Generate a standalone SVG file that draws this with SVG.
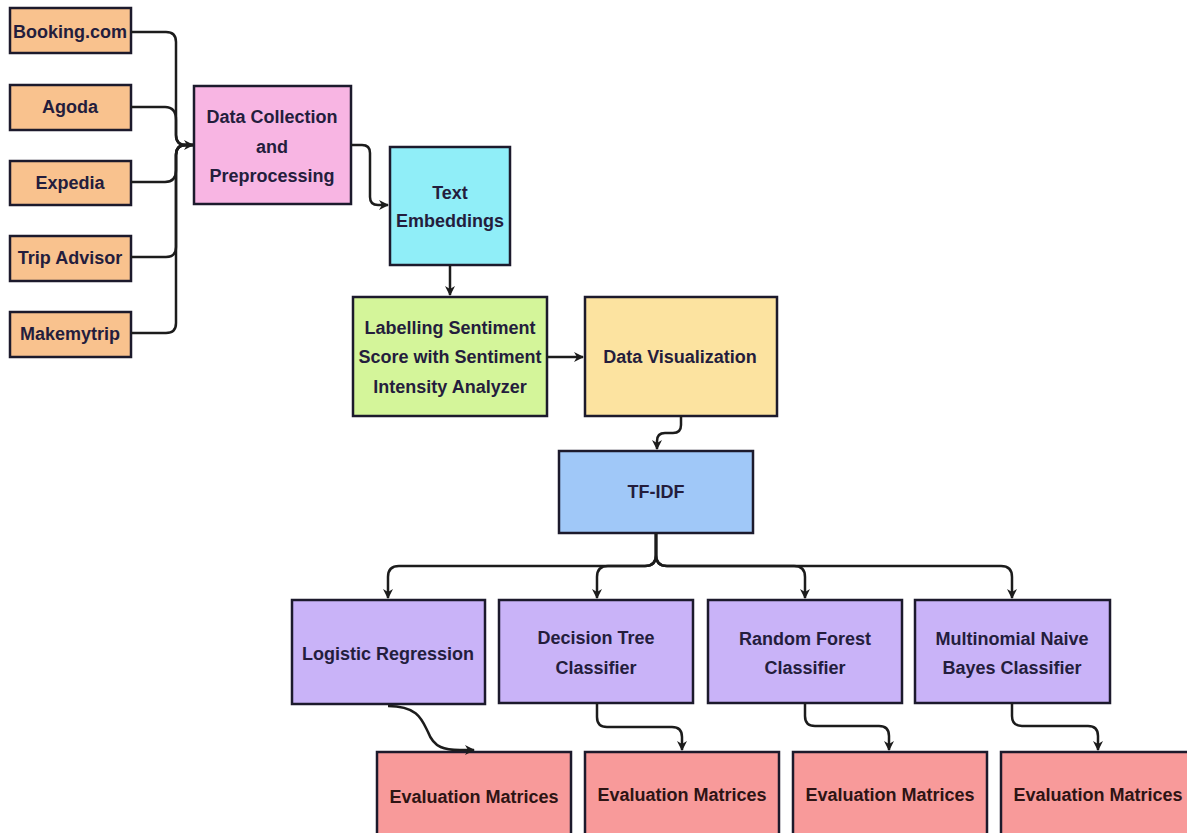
<svg xmlns="http://www.w3.org/2000/svg" width="1187" height="833" viewBox="0 0 1187 833">
<style>
.box{stroke:#1c1a2c;stroke-width:2.5}
.t{font-family:"Liberation Sans",Arial,sans-serif;font-weight:bold;font-size:18px;fill:#241d3d;text-anchor:middle}
.ev{fill:#2e1414}
.c{fill:none;stroke:#1c1c1c;stroke-width:2.5}
</style>
<defs>
<marker id="ah" viewBox="0 0 10 10" refX="9" refY="5" markerWidth="4" markerHeight="4" orient="auto" markerUnits="strokeWidth">
<path d="M0,0 L10,5 L0,10 L3,5 Z" fill="#1c1c1c"/>
</marker>
</defs>
<rect width="1187" height="833" fill="#ffffff"/>
<g id="booking"><rect class="box" x="10" y="8" width="121" height="45" fill="#F9C28E"/><text class="t" x="70" y="38">Booking.com</text></g>
<g id="agoda"><rect class="box" x="10" y="85" width="121" height="45" fill="#F9C28E"/><text class="t" x="70" y="113">Agoda</text></g>
<g id="expedia"><rect class="box" x="10" y="161" width="121" height="44" fill="#F9C28E"/><text class="t" x="70" y="189">Expedia</text></g>
<g id="tripadvisor"><rect class="box" x="10" y="236" width="121" height="45" fill="#F9C28E"/><text class="t" x="70" y="264">Trip Advisor</text></g>
<g id="makemytrip"><rect class="box" x="10" y="312" width="121" height="45" fill="#F9C28E"/><text class="t" x="70" y="340">Makemytrip</text></g>
<g id="datacollection"><rect class="box" x="194" y="86" width="157" height="118" fill="#F8B5E3"/><text class="t" x="272" y="123">Data Collection</text><text class="t" x="272" y="153">and</text><text class="t" x="272" y="182">Preprocessing</text></g>
<g id="textembeddings"><rect class="box" x="390" y="147" width="120" height="118" fill="#90EEF8"/><text class="t" x="450" y="199">Text</text><text class="t" x="450" y="227">Embeddings</text></g>
<g id="labelling"><rect class="box" x="353" y="297" width="194" height="119" fill="#D4F59A"/><text class="t" x="450" y="334">Labelling Sentiment</text><text class="t" x="450" y="363">Score with Sentiment</text><text class="t" x="450" y="393">Intensity Analyzer</text></g>
<g id="datavis"><rect class="box" x="585" y="297" width="192" height="119" fill="#FCE3A0"/><text class="t" x="680" y="363">Data Visualization</text></g>
<g id="tfidf"><rect class="box" x="559" y="451" width="194" height="82" fill="#A0C8F8"/><text class="t" x="656" y="498">TF-IDF</text></g>
<g id="logistic"><rect class="box" x="292" y="600" width="193" height="104" fill="#C9B3F8"/><text class="t" x="388" y="660">Logistic Regression</text></g>
<g id="decisiontree"><rect class="box" x="499" y="600" width="194" height="103" fill="#C9B3F8"/><text class="t" x="596" y="644">Decision Tree</text><text class="t" x="596" y="674">Classifier</text></g>
<g id="randomforest"><rect class="box" x="708" y="600" width="194" height="103" fill="#C9B3F8"/><text class="t" x="805" y="645">Random Forest</text><text class="t" x="805" y="674">Classifier</text></g>
<g id="naivebayes"><rect class="box" x="915" y="600" width="195" height="103" fill="#C9B3F8"/><text class="t" x="1012" y="645">Multinomial Naive</text><text class="t" x="1012" y="674">Bayes Classifier</text></g>
<g id="eval1"><rect class="box" x="377" y="752" width="194" height="90" fill="#F89A9A"/><text class="t ev" x="474" y="803">Evaluation Matrices</text></g>
<g id="eval2"><rect class="box" x="585" y="752" width="194" height="90" fill="#F89A9A"/><text class="t ev" x="682" y="801">Evaluation Matrices</text></g>
<g id="eval3"><rect class="box" x="793" y="752" width="194" height="90" fill="#F89A9A"/><text class="t ev" x="890" y="801">Evaluation Matrices</text></g>
<g id="eval4"><rect class="box" x="1001" y="752" width="194" height="90" fill="#F89A9A"/><text class="t ev" x="1098" y="801">Evaluation Matrices</text></g>
<g id="connectors">
<path class="c" d="M131,32 H166 Q176,32 176,42 V135 Q176,145 186,145 H193" marker-end="url(#ah)"/>
<path class="c" d="M131,107 H165 Q176,107 176,120 V135 Q176,145 186,145 H193"/>
<path class="c" d="M131,182 H165 Q176,182 176,170 V155 Q176,145 186,145 H193"/>
<path class="c" d="M131,257 H166 Q176,257 176,247 V155 Q176,145 186,145 H193"/>
<path class="c" d="M131,333 H166 Q176,333 176,323 V155 Q176,145 186,145 H193"/>
<path class="c" d="M351,145 H362 Q370,145 370,153 V197 Q370,205 378,205 H388" marker-end="url(#ah)"/>
<path class="c" d="M450,265 V295" marker-end="url(#ah)"/>
<path class="c" d="M547,357 H583" marker-end="url(#ah)"/>
<path class="c" d="M681,416 V425 Q681,433 673,433 H665 Q657,433 657,441 V449" marker-end="url(#ah)"/>
<path class="c" d="M656,533 V555 Q656,566 645,566 H399 Q388,566 388,577 V598" marker-end="url(#ah)"/>
<path class="c" d="M656,533 V555 Q656,566 645,566 H608 Q597,566 597,577 V598" marker-end="url(#ah)"/>
<path class="c" d="M656,533 V555 Q656,566 667,566 H794 Q805,566 805,577 V598" marker-end="url(#ah)"/>
<path class="c" d="M656,533 V555 Q656,566 667,566 H1001 Q1012,566 1012,577 V598" marker-end="url(#ah)"/>
<path class="c" d="M388,706 C418,706 422,720 428,732 C434,748 445,750 460,750 H474" marker-end="url(#ah)"/>
<path class="c" d="M597,703 V717 Q597,727 607,727 H672 Q682,727 682,737 V750" marker-end="url(#ah)"/>
<path class="c" d="M805,703 V716 Q805,726 815,726 H879 Q889,726 889,736 V750" marker-end="url(#ah)"/>
<path class="c" d="M1012,703 V716 Q1012,726 1022,726 H1088 Q1098,726 1098,736 V750" marker-end="url(#ah)"/>
</g>
</svg>
